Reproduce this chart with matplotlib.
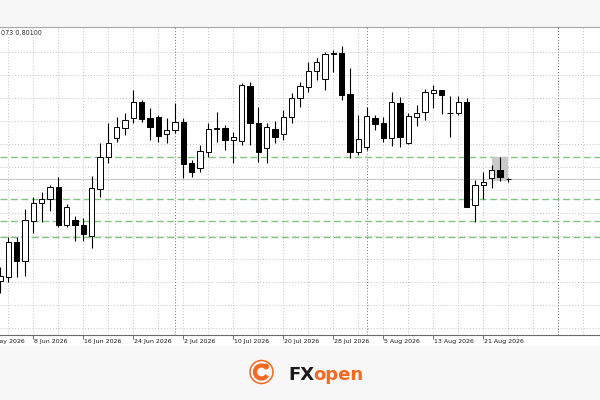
import numpy as np
import matplotlib
matplotlib.use('Agg')
import matplotlib.pyplot as plt
from matplotlib.patches import Rectangle, Circle, Arc
from matplotlib.transforms import blended_transform_factory

# daily bars, index 0 = 8 Jun 2026
bar_idx = np.arange(-4, 58)
opens = [0.79083, 0.79123, 0.79467, 0.79283, 0.79683, 0.79863, 0.79897, 0.80017, 0.79640, 0.79690,
         0.79640, 0.79530, 0.79997, 0.80323, 0.80513, 0.80613, 0.80707, 0.80867, 0.80707, 0.80723,
         0.80547, 0.80590, 0.80673, 0.80257, 0.80213, 0.80373, 0.80597, 0.80607, 0.80490, 0.80480,
         0.81033, 0.80657, 0.80407, 0.80600, 0.80547, 0.80723, 0.80907, 0.81023, 0.81183, 0.81100,
         0.81357, 0.81357, 0.80947, 0.80373, 0.80423, 0.80707, 0.80663, 0.80507, 0.80863, 0.80457,
         0.80723, 0.80767, 0.80957, 0.80990, 0.80763, 0.80757, 0.80873, 0.79840, 0.80040, 0.80107,
         0.80190, 0.80105]
highs = [0.79223, 0.79517, 0.79517, 0.79800, 0.79923, 0.79967, 0.80040, 0.80117, 0.79850, 0.79730,
         0.79707, 0.80130, 0.80457, 0.80657, 0.80723, 0.80757, 0.80990, 0.80890, 0.80807, 0.80740,
         0.80707, 0.80857, 0.80707, 0.80290, 0.80440, 0.80657, 0.80773, 0.80640, 0.80573, 0.81057,
         0.81073, 0.80823, 0.80657, 0.80680, 0.80790, 0.80957, 0.81073, 0.81267, 0.81307, 0.81373,
         0.81390, 0.81430, 0.81207, 0.80740, 0.80823, 0.80740, 0.80723, 0.80973, 0.80923, 0.80757,
         0.80840, 0.81000, 0.81040, 0.80995, 0.80933, 0.80933, 0.80913, 0.80090, 0.80173, 0.80240,
         0.80323, 0.80111]
lows = [0.78957, 0.79073, 0.79123, 0.79133, 0.79557, 0.79673, 0.79783, 0.79617, 0.79617, 0.79483,
        0.79483, 0.79407, 0.79923, 0.80257, 0.80473, 0.80540, 0.80657, 0.80673, 0.80490, 0.80473,
        0.80457, 0.80557, 0.80107, 0.80123, 0.80173, 0.80323, 0.80473, 0.80390, 0.80257, 0.80440,
        0.80440, 0.80273, 0.80257, 0.80457, 0.80490, 0.80657, 0.80823, 0.80967, 0.81090, 0.80990,
        0.81173, 0.80890, 0.80307, 0.80340, 0.80390, 0.80590, 0.80473, 0.80433, 0.80423, 0.80450,
        0.80633, 0.80690, 0.80807, 0.80747, 0.80523, 0.80740, 0.79820, 0.79673, 0.79900, 0.80007,
        0.80080, 0.80073]
closes = [0.79133, 0.79467, 0.79283, 0.79690, 0.79863, 0.79897, 0.80017, 0.79640, 0.79817, 0.79640,
          0.79550, 0.80007, 0.80323, 0.80463, 0.80623, 0.80690, 0.80867, 0.80700, 0.80623, 0.80533,
          0.80590, 0.80673, 0.80247, 0.80173, 0.80380, 0.80600, 0.80607, 0.80490, 0.80523, 0.81040,
          0.80657, 0.80373, 0.80623, 0.80523, 0.80723, 0.80907, 0.81033, 0.81180, 0.81267, 0.81347,
          0.81347, 0.80940, 0.80373, 0.80500, 0.80733, 0.80647, 0.80507, 0.80873, 0.80523, 0.80733,
          0.80763, 0.80967, 0.80990, 0.80940, 0.80757, 0.80873, 0.79823, 0.80040, 0.80067, 0.80190,
          0.80123, 0.80100]

date_ticks = [-6, 0, 6, 12, 18, 24, 30, 36, 42, 48, 54]
date_labels = ['29 May 2026', '8 Jun 2026', '16 Jun 2026', '24 Jun 2026', '2 Jul 2026',
               '10 Jul 2026', '20 Jul 2026', '28 Jul 2026', '5 Aug 2026', '13 Aug 2026',
               '21 Aug 2026']
month_seps = [17, 40, 63]
levels = [0.80320, 0.79900, 0.79680, 0.79520]
last_price = 0.80100
zone_bars = (55, 57)
zone_prices = (0.80080, 0.80323)
header = '073 0.80100'

orange = '#f26a21'
x_min, x_max = -4, 68
y_min, y_max = 0.78540, 0.81620

fig = plt.figure(figsize=(6, 4), dpi=100, facecolor='#f7f7f7')
fig.add_artist(Rectangle((0, 54 / 400), 1, 319 / 400, transform=fig.transFigure,
                         facecolor='white', edgecolor='none', zorder=-1))
ax = fig.add_axes([0, 65 / 400, 1, 308 / 400])

for s in ['left', 'right']:
    ax.spines[s].set_visible(False)
ax.spines['top'].set_color('#a8a8a8')
ax.spines['top'].set_linewidth(0.8)
ax.spines['bottom'].set_color('#6a6a6a')
ax.spines['bottom'].set_linewidth(0.8)

# grid
grid_prices = 0.8137 - 0.0023 * np.arange(13)
ax.hlines(grid_prices, x_min, x_max, colors='#c4c4c4', linewidth=0.7,
          linestyles=(0, (1, 2)), zorder=1)
ax.vlines(np.arange(-3, x_max, 3), y_min, y_max, colors='#c4c4c4', linewidth=0.7,
          linestyles=(0, (1, 2)), zorder=1)
ax.vlines(month_seps, y_min, y_max, colors='#6e6e6e', linewidth=0.7,
          linestyles=(0, (1, 2)), zorder=1.5)

# levels
ax.hlines(levels, x_min, x_max, colors='#82c482', linewidth=1.0,
          linestyles=(0, (5, 2.5)), zorder=2)
ax.axhline(last_price, color='#c8c8c8', linewidth=0.8, zorder=2)
ax.add_patch(Rectangle((zone_bars[0], zone_prices[0]), zone_bars[1] - zone_bars[0],
                       zone_prices[1] - zone_prices[0], facecolor='#c9c9c9',
                       edgecolor='none', zorder=2.5))

# candles
w = 0.64
for k, o, h, l, c in zip(bar_idx, opens, highs, lows, closes):
    ax.vlines(k, l, h, colors='black', linewidth=0.8, zorder=3)
    face = 'white' if c > o else 'black'
    ax.add_patch(Rectangle((k - w / 2, min(o, c)), w, abs(c - o), facecolor=face,
                           edgecolor='black', linewidth=0.7, zorder=4))

# x axis labels
ax.set_yticks([])
ax.set_xticks(date_ticks)
ax.set_xticklabels([])
ax.tick_params(axis='x', length=3, width=0.6, color='#555555', direction='out')
trans = blended_transform_factory(ax.transData, ax.transAxes)
for k, lab in zip(date_ticks, date_labels):
    ax.text(k + 0.1, -0.013, lab, transform=trans, ha='left', va='top',
            fontsize=4.5, color='#1a1a1a', clip_on=False)

ax.text(0.001, 0.99, header, transform=ax.transAxes, ha='left', va='top',
        fontsize=4.7, color='#333333')

ax.set_xlim(x_min, x_max)
ax.set_ylim(y_min, y_max)

# logo
inch = fig.dpi_scale_trans
fig.add_artist(Circle((2.615, 0.28), 0.115, transform=inch, facecolor='none',
                      edgecolor=orange, linewidth=1.1))
fig.add_artist(Arc((2.615, 0.28), 0.13, 0.13, theta1=60, theta2=330, transform=inch,
                   color=orange, linewidth=3))
fig.add_artist(Circle((2.66, 0.335), 0.03, transform=inch, facecolor=orange,
                      edgecolor='none'))
fig.text(2.88, 0.20, 'FX', transform=inch, fontsize=13, fontweight='bold',
         color='#1a1a1a', va='baseline', ha='left')
fig.text(3.13, 0.20, 'open', transform=inch, fontsize=13, fontweight='bold',
         color=orange, va='baseline', ha='left')

fig.savefig('out.png', dpi=100, facecolor=fig.get_facecolor())
